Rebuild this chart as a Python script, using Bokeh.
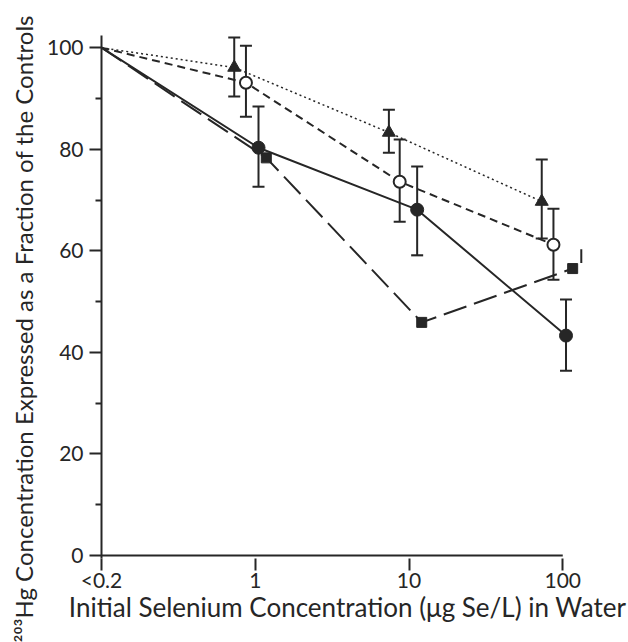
import numpy as np
from bokeh.plotting import figure
from bokeh.models import (FixedTicker, Range1d, Whisker, TeeHead, ColumnDataSource, Title)
from bokeh.embed import file_html
from bokeh.resources import INLINE

# ---- data ----
x_tick_values = [0.1, 1, 10, 100]
x_tick_labels = ["<0.2", "1", "10", "100"]
y_ticks = [0, 20, 40, 60, 80, 100]
y_minor = [10, 30, 50, 70, 90]

tri_x = [0.1, 0.73, 7.4, 73]
tri_y = [100, 96.1, 83.3, 69.7]
tri_lo = [None, 90.4, 79.3, 62.4]
tri_hi = [None, 102.0, 87.8, 78.0]

open_x = [0.1, 0.87, 8.7, 87]
open_y = [100, 93.1, 73.6, 61.2]
open_lo = [None, 86.4, 65.7, 54.3]
open_hi = [None, 100.4, 81.9, 68.3]

fill_x = [0.1, 1.05, 11.3, 105]
fill_y = [100, 80.3, 68.1, 43.3]
fill_lo = [None, 72.6, 59.1, 36.4]
fill_hi = [None, 88.4, 76.6, 50.4]

sq_x = [0.1, 1.18, 12.1, 116]
sq_y = [100, 78.3, 45.9, 56.5]
sq_bar_x = [132]
sq_bar_lo = [57.6]
sq_bar_hi = [60.3]

INK = "#262626"
FONT = "Lato"

lg = np.log10

p = figure(width=628, height=642, output_backend="svg", toolbar_location=None,
           x_range=Range1d(-1, 2.2), y_range=Range1d(-0.6, 102.4),
           min_border_left=100, min_border_right=35, min_border_top=35,
           min_border_bottom=84)
p.outline_line_color = None
p.grid.grid_line_color = None
p.background_fill_color = "white"

# axes
p.xaxis.ticker = FixedTicker(ticks=list(lg(x_tick_values)), minor_ticks=[])
p.xaxis.major_label_overrides = {float(v): t for v, t in zip(lg(x_tick_values), x_tick_labels)}
p.yaxis.ticker = FixedTicker(ticks=y_ticks, minor_ticks=y_minor)
for ax in (p.xaxis, p.yaxis):
    ax.axis_line_color = INK
    ax.axis_line_width = 2
    ax.major_tick_line_color = INK
    ax.major_tick_line_width = 2
    ax.minor_tick_line_color = INK
    ax.minor_tick_line_width = 2
    ax.major_label_text_font = FONT
    ax.major_label_text_color = INK
    ax.major_label_text_font_size = "21px"
    ax.axis_label_text_font = FONT
    ax.axis_label_text_color = INK
    ax.axis_label_text_font_style = "normal"
p.xaxis.axis_line_color = None
p.xaxis.major_tick_out = 12
p.xaxis.major_tick_in = 0
p.yaxis.major_tick_out = 12
p.yaxis.major_tick_in = 0
p.yaxis.minor_tick_out = 6
p.yaxis.minor_tick_in = 0
p.xaxis.major_label_standoff = -4
p.yaxis.major_label_standoff = 6
p.xaxis.axis_label = "Initial Selenium Concentration (\u03bcg Se/L) in Water"
p.xaxis.axis_label_text_font_size = "26px"
p.xaxis.axis_label_standoff = -4

# x axis line from "<0.2" to "100" only
p.segment(x0=[float(lg(x_tick_values[0]))], y0=[0], x1=[float(lg(x_tick_values[-1]))], y1=[0],
          line_color=INK, line_width=2)

ytitle = Title(text="\u00b2\u2070\u00b3Hg Concentration Expressed as a Fraction of the Controls",
               text_font=FONT, text_font_size="24px", text_color=INK,
               text_font_style="normal", align="left", offset=-84, standoff=12)
p.add_layout(ytitle, "left")

# lines
p.line(lg(tri_x), tri_y, line_color=INK, line_width=1.5, line_dash="2 3")
p.line(lg(open_x), open_y, line_color=INK, line_width=2, line_dash="8 5")
p.line(lg(fill_x), fill_y, line_color=INK, line_width=2)
p.line(lg(sq_x), sq_y, line_color=INK, line_width=2, line_dash="24 8")

# error bars
def add_err(xs, lo, hi):
    idx = [i for i in range(len(xs)) if lo[i] is not None]
    src = ColumnDataSource(dict(base=[float(lg(xs[i])) for i in idx],
                                lower=[lo[i] for i in idx], upper=[hi[i] for i in idx]))
    p.add_layout(Whisker(source=src, base="base", lower="lower", upper="upper",
                         dimension="height", line_color=INK, line_width=2,
                         upper_head=TeeHead(size=12, line_color=INK, line_width=2),
                         lower_head=TeeHead(size=12, line_color=INK, line_width=2),
                         level="underlay"))

add_err(tri_x, tri_lo, tri_hi)
add_err(open_x, open_lo, open_hi)
add_err(fill_x, fill_lo, fill_hi)
p.segment(lg(sq_bar_x), sq_bar_lo, lg(sq_bar_x), sq_bar_hi, line_color=INK, line_width=2)

# markers (skip the shared origin point)
p.scatter(lg(tri_x[1:]), tri_y[1:], marker="triangle", size=13, fill_color=INK, line_color=INK)
p.scatter(lg(open_x[1:]), open_y[1:], marker="circle", size=12, fill_color="white",
          line_color=INK, line_width=2)
p.scatter(lg(fill_x[1:]), fill_y[1:], marker="circle", size=13, fill_color=INK, line_color=INK)
p.scatter(lg(sq_x[1:]), sq_y[1:], marker="square", size=10, fill_color=INK, line_color=INK)

open("out.html", "w").write(file_html(p, INLINE))
